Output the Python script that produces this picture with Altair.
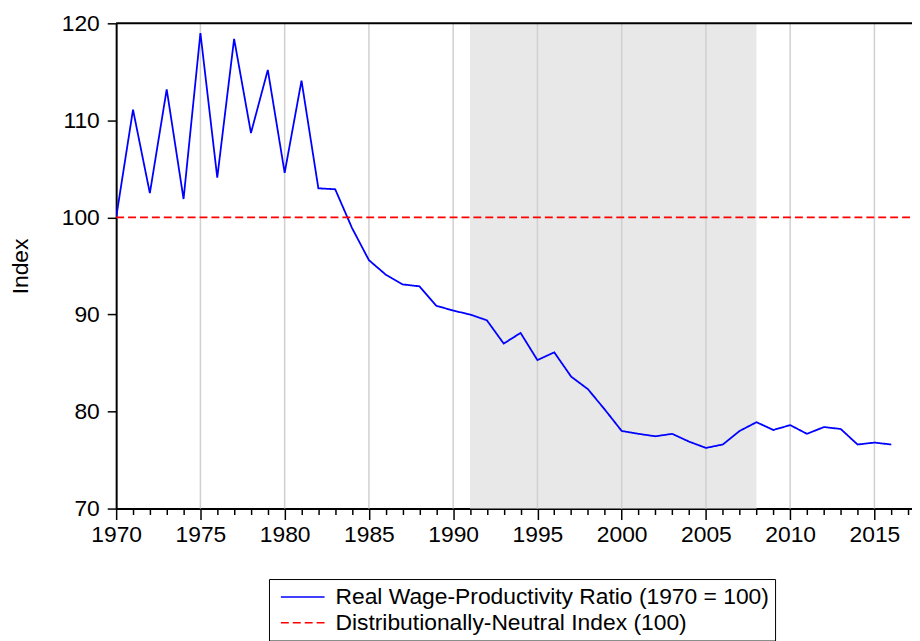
import altair as alt
import pandas as pd

# ---- data ----
years = list(range(1970, 2017))
ratio = [100.0, 111.1, 102.5, 113.2, 101.9, 119.0, 104.1, 118.4, 108.7, 115.2,
         104.6, 114.1, 103.0, 102.9, 98.9, 95.6, 94.1, 93.1, 92.9, 90.9,
         90.4, 90.0, 89.4, 87.0, 88.1, 85.3, 86.1, 83.6, 82.3, 80.2,
         78.0, 77.7, 77.45, 77.7, 76.9, 76.25, 76.6, 78.0, 78.9, 78.1,
         78.6, 77.7, 78.4, 78.2, 76.6, 76.8, 76.6]
neutral_years = [1970, 2018]
neutral_values = [100, 100]
shade_start = [1991]
shade_end = [2008]
grid_years = [1975, 1980, 1985, 1990, 1995, 2000, 2005, 2010, 2015]
tick_years = list(range(1970, 2018))
y_ticks = [70, 80, 90, 100, 110, 120]
x_domain = [1970, 2017.23]
y_domain = [70, 120]
s1 = "Real Wage-Productivity Ratio (1970 = 100)"
s2 = "Distributionally-Neutral Index (100)"

FONT = "Liberation Sans"
FS = 23

df_lines = pd.DataFrame({
    "year": years + neutral_years,
    "value": ratio + neutral_values,
    "series": [s1] * len(years) + [s2] * len(neutral_years),
})

xscale = alt.Scale(domain=x_domain, nice=False, zero=False)
yscale = alt.Scale(domain=y_domain, nice=False, zero=False)

xaxis = alt.Axis(
    values=tick_years, format="d", title=None, grid=False,
    labelExpr="datum.value % 5 === 0 ? datum.label : ''",
    tickSize={"condition": {"test": "datum.value % 5 === 0", "value": 11}, "value": 6},
    labelFontSize=FS, labelFont=FONT, labelColor="black",
    tickColor="black", tickWidth=1.5, domainColor="black", domainWidth=2,
    labelPadding=4, labelFlush=False, labelOverlap=False,
)
yaxis = alt.Axis(
    values=y_ticks, title="Index", grid=False, tickSize=9,
    labelFontSize=FS, labelFont=FONT, labelColor="black", labelPadding=8,
    titleFontSize=FS, titleFont=FONT, titleFontWeight="normal", titleColor="black",
    titlePadding=29, tickColor="black", tickWidth=1.5,
    domainColor="black", domainWidth=2,
)

shade = alt.Chart(pd.DataFrame({"start": shade_start, "end": shade_end})).mark_rect(
    color="#e8e8e8"
).encode(
    x=alt.X("start:Q", scale=xscale, axis=xaxis),
    x2="end:Q",
)

grid = alt.Chart(pd.DataFrame({"year": grid_years})).mark_rule(
    color="#d0d0d0", strokeWidth=1.5
).encode(x=alt.X("year:Q", scale=xscale, axis=xaxis))

legend = alt.Legend(
    title=None, orient="none", legendX=154, legendY=560, direction="vertical",
    strokeColor="black", fillColor="white", padding=6,
    labelFontSize=FS, labelFont=FONT, labelColor="black", labelLimit=1000,
    symbolType="M-2,0H2", symbolSize=484, symbolStrokeWidth=1.5,
    symbolOffset=16, rowPadding=2, labelOffset=21,
)

lines = alt.Chart(df_lines).mark_line(strokeWidth=1.8, clip=True).encode(
    x=alt.X("year:Q", scale=xscale, axis=xaxis),
    y=alt.Y("value:Q", scale=yscale, axis=yaxis),
    color=alt.Color("series:N", scale=alt.Scale(domain=[s1, s2], range=["#0000ff", "#ff0000"]), legend=legend),
    strokeDash=alt.StrokeDash("series:N", scale=alt.Scale(domain=[s1, s2], range=[[1, 0], [8, 4]]), legend=legend),
)

top_border = alt.Chart(pd.DataFrame({"v": [y_domain[1]]})).mark_rule(
    color="black", strokeWidth=2
).encode(y=alt.Y("v:Q", scale=yscale, axis=yaxis))

chart = alt.layer(shade, grid, lines, top_border).properties(
    width=802, height=489,
    autosize=alt.AutoSizeParams(type="none"),
    padding={"left": 109, "top": 13, "right": 0, "bottom": 131},
    background="white",
).configure_view(stroke=None)

chart.save("out.html", embed_options={"renderer": "svg", "actions": False})
